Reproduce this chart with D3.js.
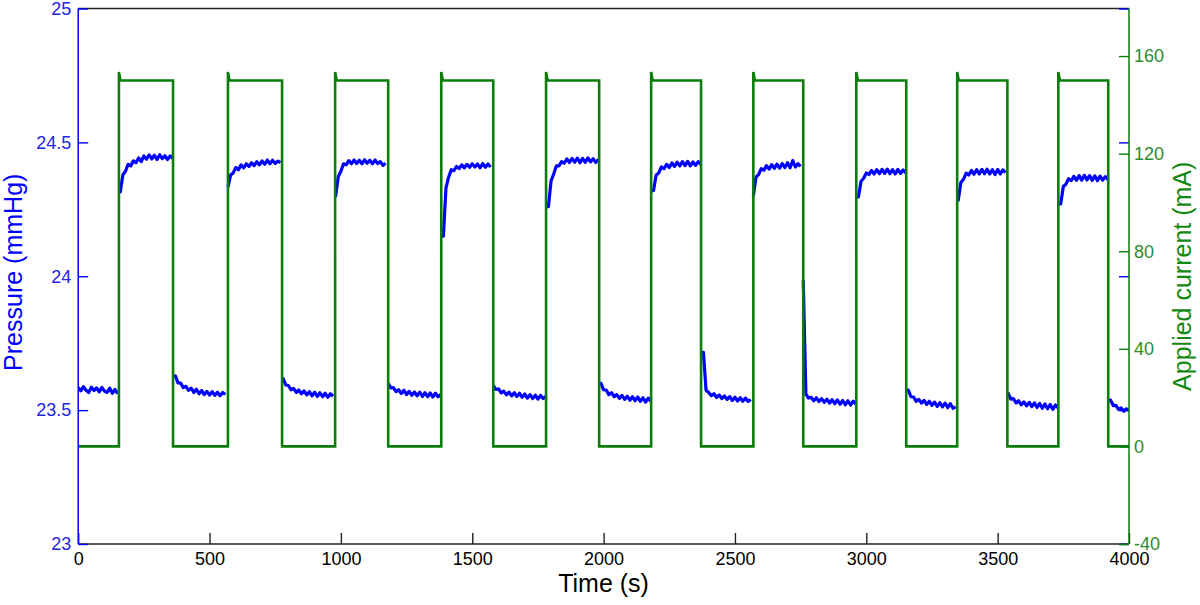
<!DOCTYPE html>
<html>
<head>
<meta charset="utf-8">
<script src="https://cdn.jsdelivr.net/npm/d3@7/dist/d3.min.js"></script>
<style>
  html, body { margin: 0; padding: 0; background: #ffffff; }
  svg { display: block; font-family: "Liberation Sans", Arial, sans-serif; }
</style>
</head>
<body>
<svg id="chart" width="1200" height="605"></svg>
<script>
// ---------------- data ----------------
const timeDomain = [0, 4000];
const timeTicks = [0, 500, 1000, 1500, 2000, 2500, 3000, 3500, 4000];
const pressureDomain = [23, 25];
const pressureTicks = [23, 23.5, 24, 24.5, 25];
const currentDomain = [-40, 179.5];
const currentTicks = [-40, 0, 40, 80, 120, 160];

// applied current square wave (s, mA)
const currentOnTimes  = [155, 570, 978, 1382, 1781, 2181, 2570, 2962, 3346, 3731];
const currentOffTimes = [361, 776, 1180, 1580, 1983, 2371, 2760, 3152, 3537, 3921];
const currentOnLevel = 150;
const currentOnSpike = 153.5;
const currentOffLevel = 0;

// pressure samples (mmHg), one every 10 s starting at t = 0
const pressureStart = 0;
const pressureStep = 10;
const pressure = [
  // 0-150 off
  23.585, 23.572, 23.588, 23.574, 23.566, 23.586, 23.573, 23.583, 23.568, 23.585, 23.571, 23.566, 23.582, 23.563, 23.577, 23.562,
  // 160-360 on
  24.315, 24.378, 24.392, 24.418, 24.412, 24.431, 24.424, 24.442, 24.428, 24.449, 24.437, 24.453, 24.438, 24.452, 24.436, 24.454, 24.439, 24.450, 24.436, 24.449, 24.440,
  // 370-560 off
  23.628, 23.602, 23.601, 23.584, 23.589, 23.574, 23.582, 23.566, 23.578, 23.561, 23.573, 23.558, 23.570, 23.556, 23.569, 23.555, 23.567, 23.554, 23.566, 23.558,
  // 570-770 on
  24.333, 24.378, 24.386, 24.406, 24.398, 24.416, 24.405, 24.420, 24.410, 24.424, 24.413, 24.428, 24.416, 24.431, 24.418, 24.434, 24.420, 24.433, 24.421, 24.430, 24.424,
  // 780-970 off
  23.618, 23.594, 23.592, 23.576, 23.581, 23.566, 23.575, 23.561, 23.572, 23.557, 23.569, 23.553, 23.567, 23.551, 23.565, 23.550, 23.563, 23.548, 23.561, 23.552,
  // 980-1170 on
  24.300, 24.372, 24.392, 24.420, 24.416, 24.432, 24.420, 24.434, 24.421, 24.433, 24.420, 24.435, 24.422, 24.433, 24.420, 24.434, 24.421, 24.428, 24.414, 24.422,
  // 1180-1380 off
  23.600, 23.583, 23.584, 23.569, 23.576, 23.562, 23.574, 23.558, 23.570, 23.555, 23.568, 23.553, 23.567, 23.551, 23.565, 23.550, 23.564, 23.549, 23.563, 23.550, 23.558,
  // 1390-1570 on
  24.150, 24.330, 24.370, 24.398, 24.394, 24.410, 24.402, 24.416, 24.405, 24.418, 24.407, 24.420, 24.408, 24.419, 24.405, 24.421, 24.407, 24.419, 24.408,
  // 1580-1780 off
  23.593, 23.577, 23.579, 23.564, 23.571, 23.557, 23.567, 23.553, 23.565, 23.551, 23.563, 23.548, 23.560, 23.545, 23.558, 23.543, 23.556, 23.541, 23.555, 23.543, 23.551,
  // 1790-1980 on
  24.260, 24.356, 24.382, 24.412, 24.412, 24.428, 24.422, 24.438, 24.425, 24.440, 24.426, 24.441, 24.424, 24.440, 24.425, 24.442, 24.427, 24.439, 24.425, 24.436,
  // 1990-2180 off
  23.600, 23.576, 23.575, 23.558, 23.565, 23.550, 23.558, 23.544, 23.555, 23.540, 23.552, 23.537, 23.550, 23.535, 23.549, 23.533, 23.546, 23.530, 23.545, 23.533,
  // 2190-2370 on
  24.320, 24.378, 24.386, 24.408, 24.402, 24.418, 24.406, 24.423, 24.410, 24.426, 24.412, 24.428, 24.413, 24.429, 24.412, 24.427, 24.414, 24.428, 24.418,
  // 2380-2560 off
  23.716, 23.574, 23.566, 23.554, 23.561, 23.547, 23.557, 23.543, 23.553, 23.540, 23.550, 23.536, 23.548, 23.534, 23.546, 23.533, 23.545, 23.532, 23.540,
  // 2570-2750 on
  24.300, 24.370, 24.380, 24.402, 24.396, 24.413, 24.400, 24.417, 24.403, 24.419, 24.404, 24.421, 24.406, 24.424, 24.405, 24.432, 24.408, 24.420, 24.410,
  // 2760-2960 off
  23.985, 23.560, 23.545, 23.548, 23.535, 23.546, 23.532, 23.543, 23.529, 23.541, 23.526, 23.539, 23.524, 23.538, 23.522, 23.536, 23.520, 23.535, 23.519, 23.533, 23.524,
  // 2970-3150 on
  24.296, 24.355, 24.366, 24.386, 24.380, 24.395, 24.382, 24.398, 24.383, 24.399, 24.384, 24.400, 24.383, 24.398, 24.382, 24.399, 24.384, 24.397, 24.386,
  // 3160-3340 off
  23.575, 23.550, 23.549, 23.533, 23.540, 23.526, 23.536, 23.521, 23.533, 23.518, 23.530, 23.514, 23.528, 23.512, 23.526, 23.509, 23.524, 23.507, 23.512,
  // 3350-3530 on
  24.284, 24.350, 24.362, 24.385, 24.378, 24.395, 24.381, 24.398, 24.382, 24.399, 24.383, 24.400, 24.382, 24.398, 24.380, 24.399, 24.382, 24.397, 24.387,
  // 3540-3730 off
  23.563, 23.541, 23.543, 23.527, 23.535, 23.520, 23.531, 23.516, 23.529, 23.513, 23.527, 23.510, 23.525, 23.507, 23.523, 23.505, 23.521, 23.503, 23.519, 23.508,
  // 3740-3920 on
  24.270, 24.335, 24.344, 24.364, 24.357, 24.373, 24.358, 24.376, 24.359, 24.377, 24.360, 24.376, 24.358, 24.375, 24.357, 24.374, 24.359, 24.372, 24.362,
  // 3930-4000 off
  23.537, 23.517, 23.518, 23.503, 23.508, 23.496, 23.505, 23.498
];

const xTitle = "Time (s)";
const yLeftTitle = "Pressure (mmHg)";
const yRightTitle = "Applied current (mA)";

// ---------------- layout ----------------
const plot = { left: 78.2, right: 1129, top: 8.5, bottom: 544 };
const blue = "#0000ff", blueText = "#2424e6";
const green = "#0a7d0a", greenText = "#2e8b2e", greenTitle = "#138813";

const svg = d3.select("#chart");

const x = d3.scaleLinear().domain(timeDomain).range([plot.left, plot.right]);
const yP = d3.scaleLinear().domain(pressureDomain).range([plot.bottom, plot.top]);
const yC = d3.scaleLinear().domain(currentDomain).range([plot.bottom, plot.top]);

svg.append("defs").append("clipPath").attr("id", "clip")
  .append("rect")
  .attr("x", plot.left).attr("y", plot.top)
  .attr("width", plot.right - plot.left).attr("height", plot.bottom - plot.top);

// pressure line, split into runs at each current switching instant;
// each run starts at the switching instant with its first sample value
const pressurePts = pressure.map((v, i) => [pressureStart + i * pressureStep, v]);
const switchTimes = currentOnTimes.concat(currentOffTimes);
const runs = [];
pressurePts.forEach((p, i) => {
  if (i > 0) {
    const e = switchTimes.find(s => s > pressurePts[i - 1][0] && s <= p[0]);
    if (e !== undefined) {
      runs.push([]);
      if (e < p[0]) runs[runs.length - 1].push([e, p[1]]);
    }
  } else {
    runs.push([]);
  }
  runs[runs.length - 1].push(p);
});
const pLine = d3.line().x(d => x(d[0])).y(d => yP(d[1]));
svg.append("g").attr("clip-path", "url(#clip)")
  .selectAll("path").data(runs).join("path")
  .attr("fill", "none")
  .attr("stroke", blue)
  .attr("stroke-width", 3.2)
  .attr("stroke-linejoin", "round")
  .attr("d", pLine);

// current square wave
const currentPts = [[timeDomain[0], currentOffLevel]];
currentOnTimes.forEach((on, k) => {
  const off = currentOffTimes[k];
  currentPts.push([on, currentOffLevel], [on, currentOnSpike], [on + 6, currentOnLevel],
                  [off, currentOnLevel], [off, currentOffLevel]);
});
currentPts.push([timeDomain[1], currentOffLevel]);
svg.append("path")
  .datum(currentPts)
  .attr("clip-path", "url(#clip)")
  .attr("fill", "none")
  .attr("stroke", green)
  .attr("stroke-width", 2.6)
  .attr("stroke-linejoin", "miter")
  .attr("d", d3.line().x(d => x(d[0])).y(d => yC(d[1])));

// ---------------- axes ----------------
function styleAxis(g, lineColor, textColor) {
  g.select(".domain").remove();
  g.selectAll(".tick line").attr("stroke", lineColor).attr("stroke-width", 1.4);
  g.selectAll(".tick text").attr("fill", textColor).attr("font-size", 18);
}

// top border
svg.append("line").attr("x1", plot.left).attr("x2", plot.right)
  .attr("y1", plot.top).attr("y2", plot.top)
  .attr("stroke", "#222").attr("stroke-width", 1.5);

// bottom axis
const gx = svg.append("g").attr("transform", `translate(0,${plot.bottom})`)
  .call(d3.axisBottom(x).tickValues(timeTicks).tickFormat(d3.format("d")).tickSize(-11).tickPadding(8));
styleAxis(gx, "#222", "#000");
svg.append("line").attr("x1", plot.left).attr("x2", plot.right)
  .attr("y1", plot.bottom).attr("y2", plot.bottom)
  .attr("stroke", "#222").attr("stroke-width", 1.5);

// left axis (pressure)
const gl = svg.append("g").attr("transform", `translate(${plot.left},0)`)
  .call(d3.axisLeft(yP).tickValues(pressureTicks).tickFormat(d => String(d)).tickSize(-10).tickPadding(7));
styleAxis(gl, blue, blueText);
svg.append("line").attr("x1", plot.left).attr("x2", plot.left)
  .attr("y1", plot.top).attr("y2", plot.bottom)
  .attr("stroke", blue).attr("stroke-width", 1.5);

// mirrored pressure ticks on right side
const glr = svg.append("g").attr("transform", `translate(${plot.right},0)`)
  .call(d3.axisRight(yP).tickValues(pressureTicks).tickFormat("").tickSize(-10));
styleAxis(glr, blue, blueText);

// right axis (current)
const gr = svg.append("g").attr("transform", `translate(${plot.right},0)`)
  .call(d3.axisRight(yC).tickValues(currentTicks).tickFormat(d => String(d)).tickSize(-10).tickPadding(5));
styleAxis(gr, green, greenText);
svg.append("line").attr("x1", plot.right).attr("x2", plot.right)
  .attr("y1", plot.top).attr("y2", plot.bottom)
  .attr("stroke", green).attr("stroke-width", 1.5);

// ---------------- titles ----------------
svg.append("text")
  .attr("x", (plot.left + plot.right) / 2).attr("y", 592)
  .attr("text-anchor", "middle").attr("font-size", 25).attr("fill", "#000")
  .text(xTitle);

svg.append("text")
  .attr("transform", `translate(22,${(plot.top + plot.bottom) / 2 - 4}) rotate(-90)`)
  .attr("text-anchor", "middle").attr("font-size", 25).attr("fill", blue)
  .text(yLeftTitle);

svg.append("text")
  .attr("transform", `translate(1191,${(plot.top + plot.bottom) / 2}) rotate(-90)`)
  .attr("text-anchor", "middle").attr("font-size", 25).attr("fill", greenTitle)
  .text(yRightTitle);
</script>
</body>
</html>
